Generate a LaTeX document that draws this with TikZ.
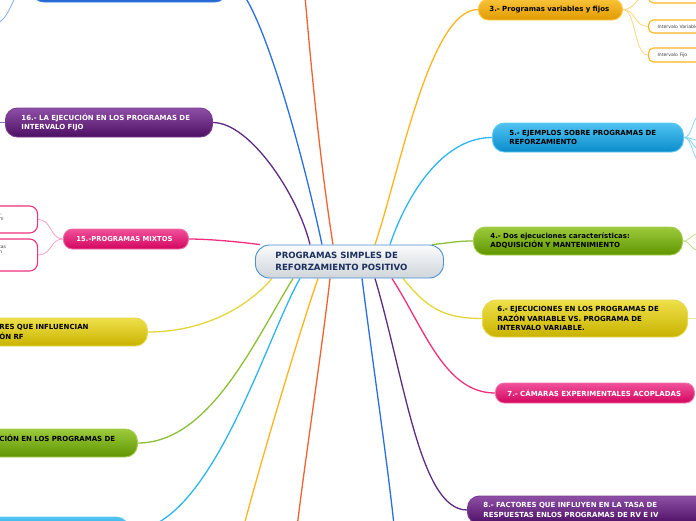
\documentclass[tikz,border=0pt]{standalone}
\usepackage{fontspec}
\setmainfont{DejaVu Sans}
\usetikzlibrary{backgrounds}
\definecolor{purpleT}{HTML}{8E4FA6}\definecolor{purpleB}{HTML}{4D0F63}\definecolor{purpleE}{HTML}{7A3A92}
\definecolor{pinkT}{HTML}{F0509A}\definecolor{pinkB}{HTML}{D3065F}\definecolor{pinkE}{HTML}{F070A8}
\definecolor{yellowT}{HTML}{EEE04A}\definecolor{yellowB}{HTML}{C9B300}\definecolor{yellowE}{HTML}{E8DA50}
\definecolor{greenT}{HTML}{9CCB3C}\definecolor{greenB}{HTML}{5F9500}\definecolor{greenE}{HTML}{A8D050}
\definecolor{lbT}{HTML}{50C4F2}\definecolor{lbB}{HTML}{0A8CCB}\definecolor{lbE}{HTML}{60C8F0}
\definecolor{orangeT}{HTML}{F8C338}\definecolor{orangeB}{HTML}{E09A00}\definecolor{orangeE}{HTML}{FFC840}
\definecolor{blueT}{HTML}{4A90E8}\definecolor{blueB}{HTML}{2466D0}\definecolor{blueE}{HTML}{3A80E0}
\definecolor{centerT}{HTML}{FAFBFC}\definecolor{centerB}{HTML}{CFD5DB}\definecolor{centerE}{HTML}{4A8FD0}
\definecolor{centerTx}{HTML}{1C2F5E}
\definecolor{cPurple}{HTML}{5E2A82}\definecolor{cBlue}{HTML}{2A6FE0}\definecolor{cRed}{HTML}{F2622E}
\definecolor{cOrange}{HTML}{FFB41E}\definecolor{cLB}{HTML}{2DB5F0}\definecolor{cGreen}{HTML}{8CC034}
\definecolor{cYellow}{HTML}{E5D53A}\definecolor{cPink}{HTML}{F0307E}
\definecolor{sOrange}{HTML}{FFD57A}\definecolor{sPink}{HTML}{F8A0C8}\definecolor{sLB}{HTML}{85D3F8}
\definecolor{sGreen}{HTML}{C2E084}\definecolor{sYellow}{HTML}{F0E890}\definecolor{sBlue}{HTML}{80AEF0}
\definecolor{sPurple}{HTML}{9A6AB0}
\tikzset{
  mmnode/.style={rounded corners=12pt, line width=0.9pt, anchor=west, align=left, inner ysep=0pt,
    font=\fontsize{7}{9.3}\selectfont\bfseries},
  fpurple/.style={top color=purpleT, bottom color=purpleB, draw=purpleE, text=white},
  fpink/.style={top color=pinkT, bottom color=pinkB, draw=pinkE, text=white},
  fyellow/.style={top color=yellowT, bottom color=yellowB, draw=yellowE, text=black},
  fgreen/.style={top color=greenT, bottom color=greenB, draw=greenE, text=black},
  flb/.style={top color=lbT, bottom color=lbB, draw=lbE, text=black},
  forange/.style={top color=orangeT, bottom color=orangeB, draw=orangeE, text=black},
  fblue/.style={top color=blueT, bottom color=blueB, draw=blueE},
  subbox/.style={rounded corners=5pt, fill=white, line width=1.1pt, anchor=west, align=left,
    inner ysep=0pt, font=\fontsize{4.6}{6}\selectfont, text=black!75},
  frag/.style={anchor=west, inner sep=0pt, font=\fontsize{4.6}{6}\selectfont, text=black!75},
  conn/.style={line width=1.3pt},
  subconn/.style={line width=0.8pt}
}
\begin{document}
\begin{tikzpicture}[x=1pt,y=-1pt]
\useasboundingbox (0,0) rectangle (696,520);
\clip (0,0) rectangle (696,520);

% central node
\node[mmnode, top color=centerT, bottom color=centerB, draw=centerE, text=centerTx,
  rounded corners=14pt, minimum height=33pt, inner xsep=20pt, text width=148pt,
  font=\fontsize{8.6}{11.6}\selectfont\bfseries] (c) at (255,261.5)
  {PROGRAMAS SIMPLES DE\\REFORZAMIENTO POSITIVO};

% left side
\node[mmnode, fblue, rounded corners=14pt, minimum height=40pt, minimum width=198pt] (nTB) at (30,-18) {};
\node[mmnode, fpurple, minimum height=29pt, inner xsep=16pt, text width=175pt] (n16) at (5,122.5)
  {16.- LA EJECUCIÓN EN LOS PROGRAMAS DE\\INTERVALO FIJO};
\node[mmnode, fpink, rounded corners=9pt, minimum height=20pt, inner xsep=13pt, text width=99pt,
  font=\fontsize{6.8}{9}\selectfont\bfseries] (n15) at (63,239)
  {\mbox{15.-PROGRAMAS MIXTOS}};
\node[subbox, draw=cPink, rounded corners=8pt, minimum height=27pt, minimum width=77pt] (s15a) at (-40,219.5) {};
\node[subbox, draw=cPink, rounded corners=8pt, minimum height=32pt, minimum width=77pt] (s15b) at (-40,255) {};
\node[frag] (f15a1) at (-1,213) {l,};
\node[frag] (f15a2) at (-1,219.5) {m};
\node[frag] (f15b1) at (-4,246.5) {ntas};
\node[frag] (f15b2) at (-1,252.5) {n};
\node[mmnode, fyellow, minimum height=28pt, inner xsep=16pt, text width=132pt] (nY) at (-17,332)
  {RES QUE INFLUENCIAN\\ÓN RF};
\node[mmnode, fgreen, minimum height=28pt, inner xsep=16pt, text width=122pt] (nG) at (-17,443)
  {CIÓN EN LOS PROGRAMAS DE\\\mbox{}};
\node[mmnode, flb, minimum height=28pt, minimum width=188pt] (nLB) at (-60,531) {};

% right side
\node[mmnode, forange, rounded corners=10pt, minimum height=21pt, inner xsep=11pt, text width=122pt] (n3) at (478,9.5)
  {3.- Programas variables y fijos};
\node[subbox, draw=cOrange, minimum height=13pt, minimum width=82pt] (s3a) at (648,-3.5) {};
\node[subbox, draw=cOrange, minimum height=13pt, inner xsep=9pt, text width=70pt] (s3b) at (648,26.5) {Intervalo Variable};
\node[subbox, draw=cOrange, minimum height=14pt, inner xsep=9pt, text width=70pt] (s3c) at (648,55) {Intervalo Fijo};
\node[mmnode, flb, minimum height=29pt, inner xsep=17pt, text width=157pt] (n5) at (492,137.5)
  {5.- EJEMPLOS SOBRE PROGRAMAS DE\\REFORZAMIENTO};
\node[mmnode, fgreen, minimum height=28pt, inner xsep=17pt, text width=175pt] (n4) at (473,241)
  {4.- Dos ejecuciones características:\\ADQUISICIÓN Y MANTENIMIENTO};
\node[mmnode, fyellow, rounded corners=14pt, minimum height=37pt, inner xsep=15pt, text width=175pt] (n6) at (482,318.5)
  {6.- EJECUCIONES EN LOS PROGRAMAS DE\\RAZÓN VARIABLE VS. PROGRAMA DE\\INTERVALO VARIABLE.};
\node[mmnode, fpink, rounded corners=9pt, minimum height=20pt, inner xsep=12pt, text width=175pt] (n7) at (495,393)
  {7.- CÁMARAS EXPERIMENTALES ACOPLADAS};
\node[mmnode, fpurple, minimum height=28pt, inner xsep=16pt, text width=231pt] (n8) at (467,510)
  {8.- FACTORES QUE INFLUYEN EN LA TASA DE\\RESPUESTAS ENLOS PROGRAMAS DE RV E IV};

% free ends
\coordinate (topred) at (304,-15);
\coordinate (botblue) at (396,545);
\coordinate (botred) at (295,545);
\coordinate (botorange) at (239,545);
\coordinate (e16) at (-15,122.5);
\coordinate (eTB) at (-12,26);
\coordinate (e5a) at (702,114);
\coordinate (e5b) at (702,141);
\coordinate (e5c) at (702,150);
\coordinate (e5d) at (702,162);
\coordinate (e4a) at (702,233);
\coordinate (e4b) at (702,251);
\coordinate (e6) at (702,318.5);

\begin{scope}[on background layer]
% main connectors, top
\draw[conn, cPurple] ([xshift=55pt]c.north west) .. controls (298,195) and (250,122.5) .. (n16.east);
\draw[conn, cBlue] ([xshift=67pt]c.north west) .. controls (302,150) and (256,-18) .. (nTB.east);
\draw[conn, cRed] ([xshift=78pt]c.north west) .. controls (318,150) and (308,30) .. (topred);
\draw[conn, cOrange] ([xshift=120pt]c.north west) .. controls (400,170) and (430,9.5) .. (n3.west);
\draw[conn, cLB] ([xshift=135pt]c.north west) .. controls (405,200) and (440,137.5) .. (n5.west);
\draw[conn, cGreen] ([xshift=-12pt]c.north east) .. controls (450,243) and (455,241) .. (n4.west);
% main connectors, bottom right
\draw[conn, cYellow] ([xshift=148pt]c.south west) .. controls (425,305) and (440,318.5) .. (n6.west);
\draw[conn, cPink] ([xshift=137pt]c.south west) .. controls (425,330) and (445,393) .. (n7.west);
\draw[conn, cPurple] ([xshift=120pt]c.south west) .. controls (405,380) and (420,510) .. (n8.west);
\draw[conn, cBlue] ([xshift=107pt]c.south west) .. controls (375,380) and (390,480) .. (botblue);
% main connectors, bottom left
\draw[conn, cRed] ([xshift=75pt]c.south west) .. controls (322,350) and (302,480) .. (botred);
\draw[conn, cOrange] ([xshift=63pt]c.south west) .. controls (300,330) and (255,480) .. (botorange);
\draw[conn, cLB] ([xshift=45pt]c.south west) .. controls (265,340) and (210,531) .. (nLB.east);
\draw[conn, cGreen] ([xshift=38pt]c.south west) .. controls (255,340) and (210,443) .. (nG.east);
\draw[conn, cYellow] ([xshift=17pt]c.south west) .. controls (245,310) and (200,332) .. (nY.east);
\draw[conn, cPink] ([xshift=5pt]c.north west) .. controls (240,242) and (210,239) .. (n15.east);
% sub connectors
\draw[subconn, sPurple] (n16.west) -- (e16);
\draw[subconn, sBlue] (nTB.west) .. controls (12,-18) and (14,26) .. (eTB);
\draw[subconn, sPink] (n15.west) .. controls (50,239) and (52,219.5) .. (s15a.east);
\draw[subconn, sPink] (n15.west) .. controls (50,239) and (52,255) .. (s15b.east);
\draw[subconn, sOrange] (n3.east) .. controls (636,9.5) and (634,-3.5) .. (s3a.west);
\draw[subconn, sOrange] (n3.east) .. controls (636,9.5) and (634,26.5) .. (s3b.west);
\draw[subconn, sOrange] (n3.east) .. controls (636,9.5) and (634,55) .. (s3c.west);
\draw[subconn, sLB] (n5.east) .. controls (693,137.5) and (692,114) .. (e5a);
\draw[subconn, sLB] (n5.east) .. controls (693,137.5) and (694,141) .. (e5b);
\draw[subconn, sLB] (n5.east) .. controls (693,137.5) and (692,150) .. (e5c);
\draw[subconn, sLB] (n5.east) .. controls (693,137.5) and (692,162) .. (e5d);
\draw[subconn, sGreen] (n4.east) .. controls (691,241) and (690,233) .. (e4a);
\draw[subconn, sGreen] (n4.east) .. controls (691,241) and (690,251) .. (e4b);
\draw[subconn, sYellow] (n6.east) -- (e6);
\end{scope}
\end{tikzpicture}
\end{document}
